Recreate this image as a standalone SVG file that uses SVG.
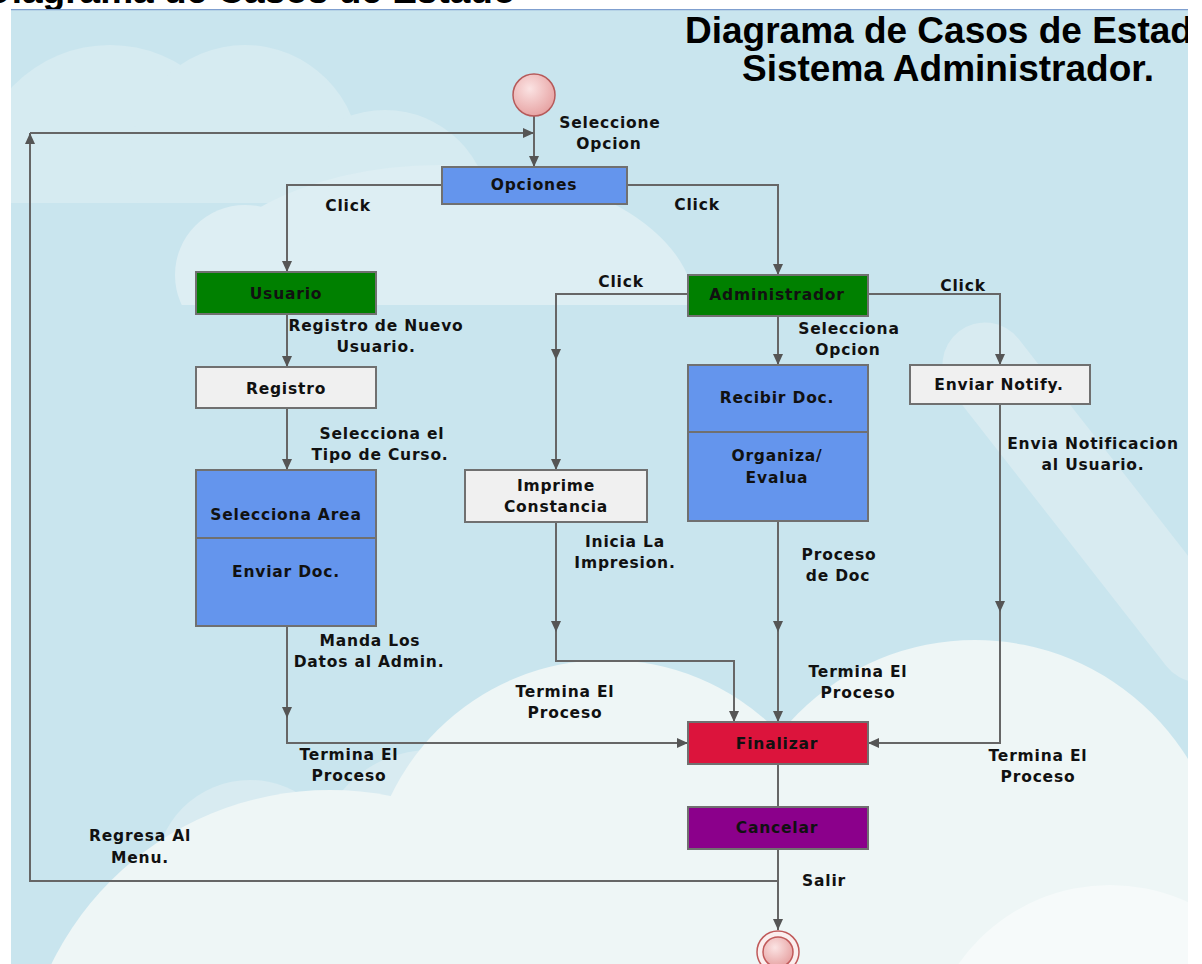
<svg xmlns="http://www.w3.org/2000/svg" width="1202" height="964" viewBox="0 0 1202 964">
<defs>
<style>
.lbl{font-family:"DejaVu Sans","Liberation Sans",sans-serif;font-weight:bold;font-size:15.5px;letter-spacing:0.8px;fill:#111;text-anchor:middle}
.nt{font-family:"DejaVu Sans","Liberation Sans",sans-serif;font-weight:bold;font-size:15.5px;letter-spacing:0.8px;fill:#111;text-anchor:middle}
.title{font-family:"Liberation Sans",Arial,sans-serif;font-weight:bold;font-size:37px;fill:#000}
.box{stroke:#707070;stroke-width:2}
.blue{fill:#6495ed}
.green{fill:#008000}
.light{fill:#f0f0f0}
.con{fill:none;stroke:#666;stroke-width:2}
.arr{marker-end:url(#ah)}
</style>
<marker id="ah" markerUnits="userSpaceOnUse" markerWidth="12" markerHeight="12" viewBox="0 0 12 12" refX="11" refY="6" orient="auto">
<path d="M0,1 L11,6 L0,11 z" fill="#555"/>
</marker>
<radialGradient id="pink" cx="0.4" cy="0.35" r="0.7">
<stop offset="0" stop-color="#fbe3e3"/>
<stop offset="1" stop-color="#e6a0a0"/>
</radialGradient>
<clipPath id="panel"><rect x="11" y="9" width="1177" height="955"/></clipPath>
<clipPath id="upperA"><rect x="11" y="9" width="1177" height="194"/></clipPath>
<clipPath id="upperB"><rect x="11" y="9" width="1177" height="296"/></clipPath>
</defs>
<rect x="0" y="0" width="1202" height="964" fill="#ffffff"/>
<text class="title" x="-15" y="3" font-size="38">Diagrama de Casos de Estado</text>
<g id="background" clip-path="url(#panel)">
<rect x="11" y="9" width="1177" height="955" fill="#c9e5ee"/>
<g clip-path="url(#upperA)" fill="#d6ebf1">
<circle cx="110" cy="180" r="135"/>
<circle cx="245" cy="160" r="115"/>
<circle cx="385" cy="215" r="105"/>
</g>
<g clip-path="url(#upperB)" fill="#ddeef3">
<ellipse cx="440" cy="310" rx="255" ry="145"/>
<circle cx="245" cy="275" r="70"/>
</g>
<path d="M985,365 L1200,640" stroke="#d8ebf1" stroke-width="85" stroke-linecap="round" fill="none"/>
<g fill="#d8ebf1">
<circle cx="250" cy="875" r="95"/>
<circle cx="430" cy="865" r="115"/>
</g>
<g fill="#eef6f6">
<circle cx="330" cy="1100" r="310"/>
<circle cx="607" cy="900" r="240"/>
<circle cx="975" cy="890" r="250"/>
<rect x="330" y="880" width="860" height="90"/>
</g>
<circle cx="1110" cy="1070" r="185" fill="#f6fafa"/>
<line x1="11" y1="9.5" x2="1188" y2="9.5" stroke="#7f9fcf" stroke-width="1.5"/>
</g>
<g id="titulo" clip-path="url(#panel)">
<text class="title" x="685" y="43">Diagrama de Casos de Estado</text>
<text class="title" x="742" y="81">Sistema Administrador.</text>
</g>
<g id="connectors">
<path class="con arr" d="M534,116 V167"/>
<path class="con arr" d="M778,849 V930"/>
<path class="con arr" d="M778,881 H30 V133"/>
<path class="con arr" d="M30,133 H534"/>
<path class="con arr" d="M442,185 H287 V272"/>
<path class="con arr" d="M627,185 H778 V275"/>
<path class="con arr" d="M287,314 V367"/>
<path class="con arr" d="M287,408 V470"/>
<path class="con arr" d="M287,626 V718"/>
<path class="con arr" d="M287,718 V743 H688"/>
<path class="con arr" d="M688,294 H556 V360"/>
<path class="con arr" d="M556,360 V470"/>
<path class="con arr" d="M778,316 V365"/>
<path class="con arr" d="M868,294 H1000 V365"/>
<path class="con arr" d="M556,522 V632"/>
<path class="con arr" d="M556,632 V661 H734 V722"/>
<path class="con arr" d="M778,521 V632"/>
<path class="con arr" d="M778,632 V722"/>
<path class="con arr" d="M1000,404 V612"/>
<path class="con arr" d="M1000,612 V743 H868"/>
<path class="con" d="M778,764 V807"/>
</g>
<g id="labels">
<text class="lbl" x="610" y="128">Seleccione</text>
<text class="lbl" x="609" y="149">Opcion</text>
<text class="lbl" x="348" y="211">Click</text>
<text class="lbl" x="697" y="210">Click</text>
<text class="lbl" x="621" y="287">Click</text>
<text class="lbl" x="963" y="291">Click</text>
<text class="lbl" x="376" y="331">Registro de Nuevo</text>
<text class="lbl" x="376" y="352">Usuario.</text>
<text class="lbl" x="382" y="439">Selecciona el</text>
<text class="lbl" x="380" y="460">Tipo de Curso.</text>
<text class="lbl" x="370" y="646">Manda Los</text>
<text class="lbl" x="369" y="667">Datos al Admin.</text>
<text class="lbl" x="349" y="760">Termina El</text>
<text class="lbl" x="349" y="781">Proceso</text>
<text class="lbl" x="140" y="841">Regresa Al</text>
<text class="lbl" x="140" y="863">Menu.</text>
<text class="lbl" x="625" y="547">Inicia La</text>
<text class="lbl" x="625" y="568">Impresion.</text>
<text class="lbl" x="565" y="697">Termina El</text>
<text class="lbl" x="565" y="718">Proceso</text>
<text class="lbl" x="849" y="334">Selecciona</text>
<text class="lbl" x="848" y="355">Opcion</text>
<text class="lbl" x="839" y="560">Proceso</text>
<text class="lbl" x="838" y="581">de Doc</text>
<text class="lbl" x="858" y="677">Termina El</text>
<text class="lbl" x="858" y="698">Proceso</text>
<text class="lbl" x="1093" y="449">Envia Notificacion</text>
<text class="lbl" x="1093" y="470">al Usuario.</text>
<text class="lbl" x="1038" y="761">Termina El</text>
<text class="lbl" x="1038" y="782">Proceso</text>
<text class="lbl" x="824" y="886">Salir</text>
</g>
<g id="inicio">
<circle cx="534" cy="95" r="21" fill="url(#pink)" stroke="#b65a5a" stroke-width="1.5"/>
</g>
<g id="opciones">
<rect class="box blue" x="442" y="167" width="185" height="37"/>
<text class="nt" x="534" y="190">Opciones</text>
</g>
<g id="usuario">
<rect class="box green" x="196" y="272" width="180" height="42"/>
<text class="nt" x="286" y="299">Usuario</text>
</g>
<g id="administrador">
<rect class="box green" x="688" y="275" width="180" height="41"/>
<text class="nt" x="777" y="300">Administrador</text>
</g>
<g id="registro">
<rect class="box light" x="196" y="367" width="180" height="41"/>
<text class="nt" x="286" y="394">Registro</text>
</g>
<g id="selecciona-area">
<rect class="box blue" x="196" y="470" width="180" height="156"/>
<line x1="196" y1="538" x2="376" y2="538" stroke="#707070" stroke-width="2"/>
<text class="nt" x="286" y="520">Selecciona Area</text>
<text class="nt" x="286" y="577">Enviar Doc.</text>
</g>
<g id="imprime">
<rect class="box light" x="465" y="470" width="182" height="52"/>
<text class="nt" x="556" y="491">Imprime</text>
<text class="nt" x="556" y="512">Constancia</text>
</g>
<g id="recibir">
<rect class="box blue" x="688" y="365" width="180" height="156"/>
<line x1="688" y1="432" x2="868" y2="432" stroke="#707070" stroke-width="2"/>
<text class="nt" x="777" y="403">Recibir Doc.</text>
<text class="nt" x="777" y="461">Organiza/</text>
<text class="nt" x="777" y="483">Evalua</text>
</g>
<g id="notify">
<rect class="box light" x="910" y="365" width="180" height="39"/>
<text class="nt" x="999" y="390">Enviar Notify.</text>
</g>
<g id="finalizar">
<rect class="box" fill="#dc143c" x="688" y="722" width="180" height="42"/>
<text class="nt" x="777" y="749">Finalizar</text>
</g>
<g id="cancelar">
<rect class="box" fill="#8b008b" x="688" y="807" width="180" height="42"/>
<text class="nt" x="777" y="833">Cancelar</text>
</g>
<g id="fin">
<circle cx="778" cy="952" r="21" fill="#fbeeee" stroke="#c05a5a" stroke-width="1.5"/>
<circle cx="778" cy="952" r="15" fill="url(#pink)" stroke="#c05a5a" stroke-width="1.5"/>
</g>
</svg>
